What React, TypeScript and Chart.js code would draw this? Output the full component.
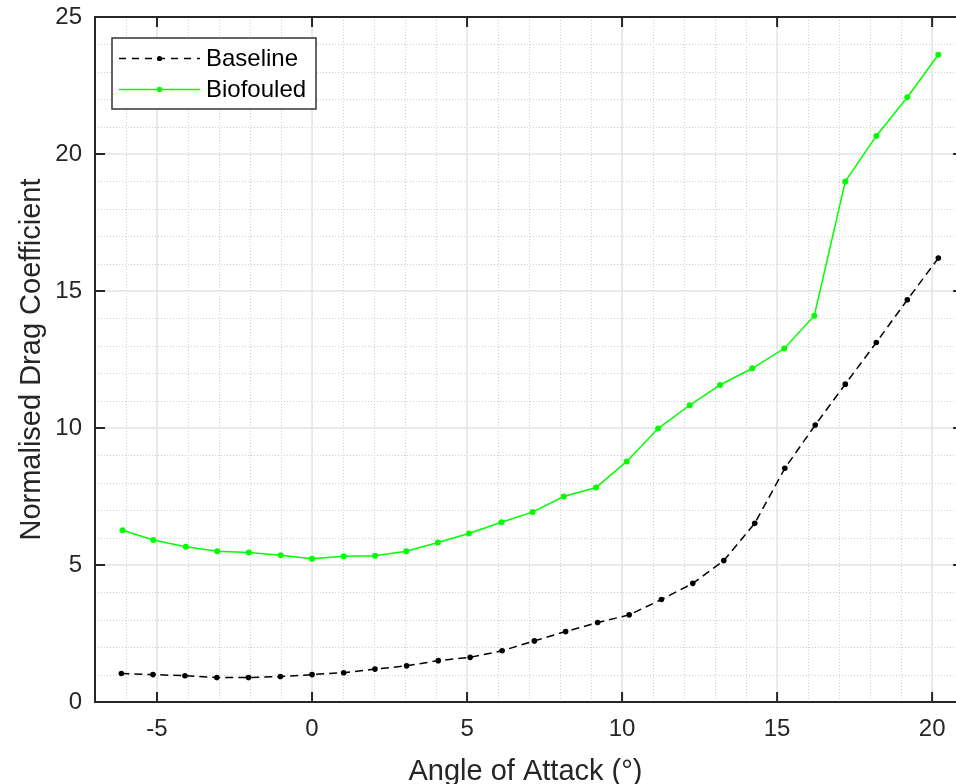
import React, { useEffect, useRef } from "react";
import { Chart, registerables } from "chart.js";

Chart.register(...registerables);

// ---- Data ----
const baselineAngles = [-6.15, -5.13, -4.1, -3.07, -2.05, -1.02, 0, 1.02, 2.03, 3.05, 4.07, 5.1, 6.13, 7.17, 8.18, 9.21, 10.23, 11.27, 12.28, 13.28, 14.28, 15.25, 16.23, 17.2, 18.2, 19.2, 20.2];
const baselineCd = [1.04, 1.0, 0.96, 0.89, 0.89, 0.93, 1.0, 1.07, 1.2, 1.32, 1.51, 1.63, 1.87, 2.23, 2.57, 2.9, 3.18, 3.74, 4.33, 5.16, 6.52, 8.53, 10.11, 11.6, 13.12, 14.68, 16.2];
const biofouledAngles = [-6.11, -5.12, -4.07, -3.06, -2.04, -1.01, 0, 1.02, 2.03, 3.04, 4.06, 5.06, 6.11, 7.11, 8.12, 9.16, 10.15, 11.16, 12.18, 13.16, 14.2, 15.23, 16.2, 17.2, 18.2, 19.2, 20.2];
const biofouledCd = [6.27, 5.91, 5.67, 5.5, 5.46, 5.36, 5.23, 5.32, 5.34, 5.5, 5.82, 6.15, 6.56, 6.93, 7.5, 7.83, 8.78, 9.98, 10.83, 11.57, 12.18, 12.9, 14.1, 19.0, 20.66, 22.07, 23.62];

const xTicks = [-5, 0, 5, 10, 15, 20];
const yTicks = [0, 5, 10, 15, 20, 25];
const xRange = [-7, 20.77]; // visible part of the axes (the figure is cropped on the right)
const xAxisEnd = 21; // true right edge of the axes box (outside the picture)
const seriesLabels = ["Baseline", "Biofouled"];
const xTitle = "Angle of Attack (°)";
const yTitle = "Normalised Drag Coefficient";

const FONT = "'Liberation Sans', Arial, Helvetica, sans-serif";
const TEXT = "#262626";
const GREEN = "#00ff00";

const matlabAxes = {
  id: "matlabAxes",
  beforeDatasetsDraw(chart: any) {
    const { ctx, chartArea: a, scales } = chart;
    const x = scales.x, y = scales.y;
    ctx.save();
    // minor grid (dotted)
    ctx.strokeStyle = "#cfcfcf";
    ctx.lineWidth = 1;
    ctx.setLineDash([1, 2]);
    ctx.beginPath();
    for (let v = Math.ceil(x.min); v <= x.max; v++) {
      if (v % 5 === 0) continue;
      const px = Math.round(x.getPixelForValue(v)) + 0.5;
      ctx.moveTo(px, a.top);
      ctx.lineTo(px, a.bottom);
    }
    for (let v = Math.ceil(y.min); v <= y.max; v++) {
      if (v % 5 === 0) continue;
      const py = Math.round(y.getPixelForValue(v)) + 0.5;
      ctx.moveTo(a.left, py);
      ctx.lineTo(a.right, py);
    }
    ctx.stroke();
    // major grid
    ctx.setLineDash([]);
    ctx.strokeStyle = "#e3e3e3";
    ctx.lineWidth = 1.5;
    ctx.beginPath();
    xTicks.forEach((v) => {
      const px = x.getPixelForValue(v);
      ctx.moveTo(px, a.top);
      ctx.lineTo(px, a.bottom);
    });
    yTicks.forEach((v) => {
      const py = y.getPixelForValue(v);
      ctx.moveTo(a.left, py);
      ctx.lineTo(a.right, py);
    });
    ctx.stroke();
    ctx.restore();
  },
  afterDatasetsDraw(chart: any) {
    const { ctx, chartArea: a, scales } = chart;
    const x = scales.x, y = scales.y;
    const rightEdge = x.getPixelForValue(xAxisEnd);
    ctx.save();
    ctx.strokeStyle = TEXT;
    ctx.lineWidth = 2;
    ctx.setLineDash([]);
    ctx.beginPath();
    ctx.moveTo(rightEdge, a.top);
    ctx.lineTo(a.left, a.top);
    ctx.lineTo(a.left, a.bottom);
    ctx.lineTo(rightEdge, a.bottom);
    ctx.stroke();
    const tl = 10;
    ctx.beginPath();
    xTicks.forEach((v) => {
      const px = x.getPixelForValue(v);
      ctx.moveTo(px, a.bottom);
      ctx.lineTo(px, a.bottom - tl);
      ctx.moveTo(px, a.top);
      ctx.lineTo(px, a.top + tl);
    });
    yTicks.forEach((v) => {
      const py = y.getPixelForValue(v);
      ctx.moveTo(a.left, py);
      ctx.lineTo(a.left + tl, py);
      ctx.moveTo(rightEdge, py);
      ctx.lineTo(rightEdge - tl, py);
    });
    ctx.stroke();

    // legend
    const lx = a.left + 17;
    const ly = a.top + 21;
    const lw = 204;
    const lh = 71;
    ctx.fillStyle = "#ffffff";
    ctx.fillRect(lx, ly, lw, lh);
    ctx.strokeStyle = "#333333";
    ctx.lineWidth = 1.5;
    ctx.strokeRect(lx, ly, lw, lh);
    const rows = [
      { label: seriesLabels[0], color: "#000000", dash: [7, 6], r: 2.6 },
      { label: seriesLabels[1], color: GREEN, dash: [], r: 2.8 },
    ];
    rows.forEach((row, i) => {
      const cy = ly + 20.5 + i * 31;
      ctx.strokeStyle = row.color;
      ctx.lineWidth = 1.3;
      ctx.setLineDash(row.dash);
      ctx.beginPath();
      ctx.moveTo(lx + 7, cy);
      ctx.lineTo(lx + 88, cy);
      ctx.stroke();
      ctx.setLineDash([]);
      ctx.fillStyle = row.color;
      ctx.beginPath();
      ctx.arc(lx + 47.5, cy, row.r, 0, Math.PI * 2);
      ctx.fill();
      ctx.fillStyle = "#000000";
      ctx.font = `24px ${FONT}`;
      ctx.textBaseline = "middle";
      ctx.textAlign = "left";
      ctx.fillText(row.label, lx + 94, cy + 1);
    });
    ctx.restore();
  },
};

export default function App() {
  const canvasRef = useRef<HTMLCanvasElement | null>(null);

  useEffect(() => {
    document.body.style.margin = "0";
    document.body.style.overflow = "hidden";
    document.documentElement.style.overflow = "hidden";
    const canvas = canvasRef.current;
    if (!canvas) return;
    const chart = new Chart(canvas, {
      type: "line",
      data: {
        datasets: [
          {
            label: seriesLabels[0],
            data: baselineAngles.map((a, i) => ({ x: a, y: baselineCd[i] })),
            borderColor: "#000000",
            backgroundColor: "#000000",
            borderWidth: 1.5,
            borderDash: [8, 5],
            pointRadius: 2.8,
            pointBorderWidth: 0,
            pointBackgroundColor: "#000000",
            tension: 0,
          },
          {
            label: seriesLabels[1],
            data: biofouledAngles.map((a, i) => ({ x: a, y: biofouledCd[i] })),
            borderColor: GREEN,
            backgroundColor: GREEN,
            borderWidth: 1.5,
            pointRadius: 3,
            pointBorderWidth: 0,
            pointBackgroundColor: GREEN,
            tension: 0,
          },
        ],
      },
      options: {
        responsive: false,
        animation: false,
        layout: { autoPadding: false, padding: { top: 17, right: 0, left: 0, bottom: 0 } },
        plugins: { legend: { display: false }, tooltip: { enabled: false } },
        scales: {
          x: {
            type: "linear",
            min: xRange[0],
            max: xRange[1],
            afterBuildTicks: (s: any) => {
              s.ticks = xTicks.map((v) => ({ value: v }));
            },
            afterFit: (s: any) => {
              s.height = 82;
              s.paddingLeft = 0;
              s.paddingRight = 0;
              s.paddingTop = 0;
              s.paddingBottom = 0;
            },
            grid: { display: false, drawTicks: false },
            border: { display: false },
            ticks: { padding: 13, color: TEXT, font: { family: FONT, size: 24 }, maxRotation: 0 },
            title: {
              display: true,
              text: xTitle,
              color: TEXT,
              font: { family: FONT, size: 29, lineHeight: 0.8 },
              padding: { top: 0, bottom: 0 },
            },
          },
          y: {
            type: "linear",
            min: 0,
            max: 25,
            afterBuildTicks: (s: any) => {
              s.ticks = yTicks.map((v) => ({ value: v }));
            },
            afterFit: (s: any) => {
              s.width = 95;
              s.paddingLeft = 0;
              s.paddingRight = 0;
              s.paddingTop = 0;
              s.paddingBottom = 0;
            },
            grid: { display: false, drawTicks: false },
            border: { display: false },
            ticks: { padding: 13, color: TEXT, font: { family: FONT, size: 24 } },
            title: {
              display: true,
              text: yTitle,
              color: TEXT,
              font: { family: FONT, size: 29, lineHeight: 1 },
              padding: { top: 17, bottom: 0 },
            },
          },
        },
      },
      plugins: [matlabAxes],
    } as any);
    return () => chart.destroy();
  }, []);

  return (
    <div style={{ width: 956, height: 784, overflow: "hidden" }}>
      <canvas ref={canvasRef} width={956} height={784} style={{ display: "block" }} />
    </div>
  );
}
